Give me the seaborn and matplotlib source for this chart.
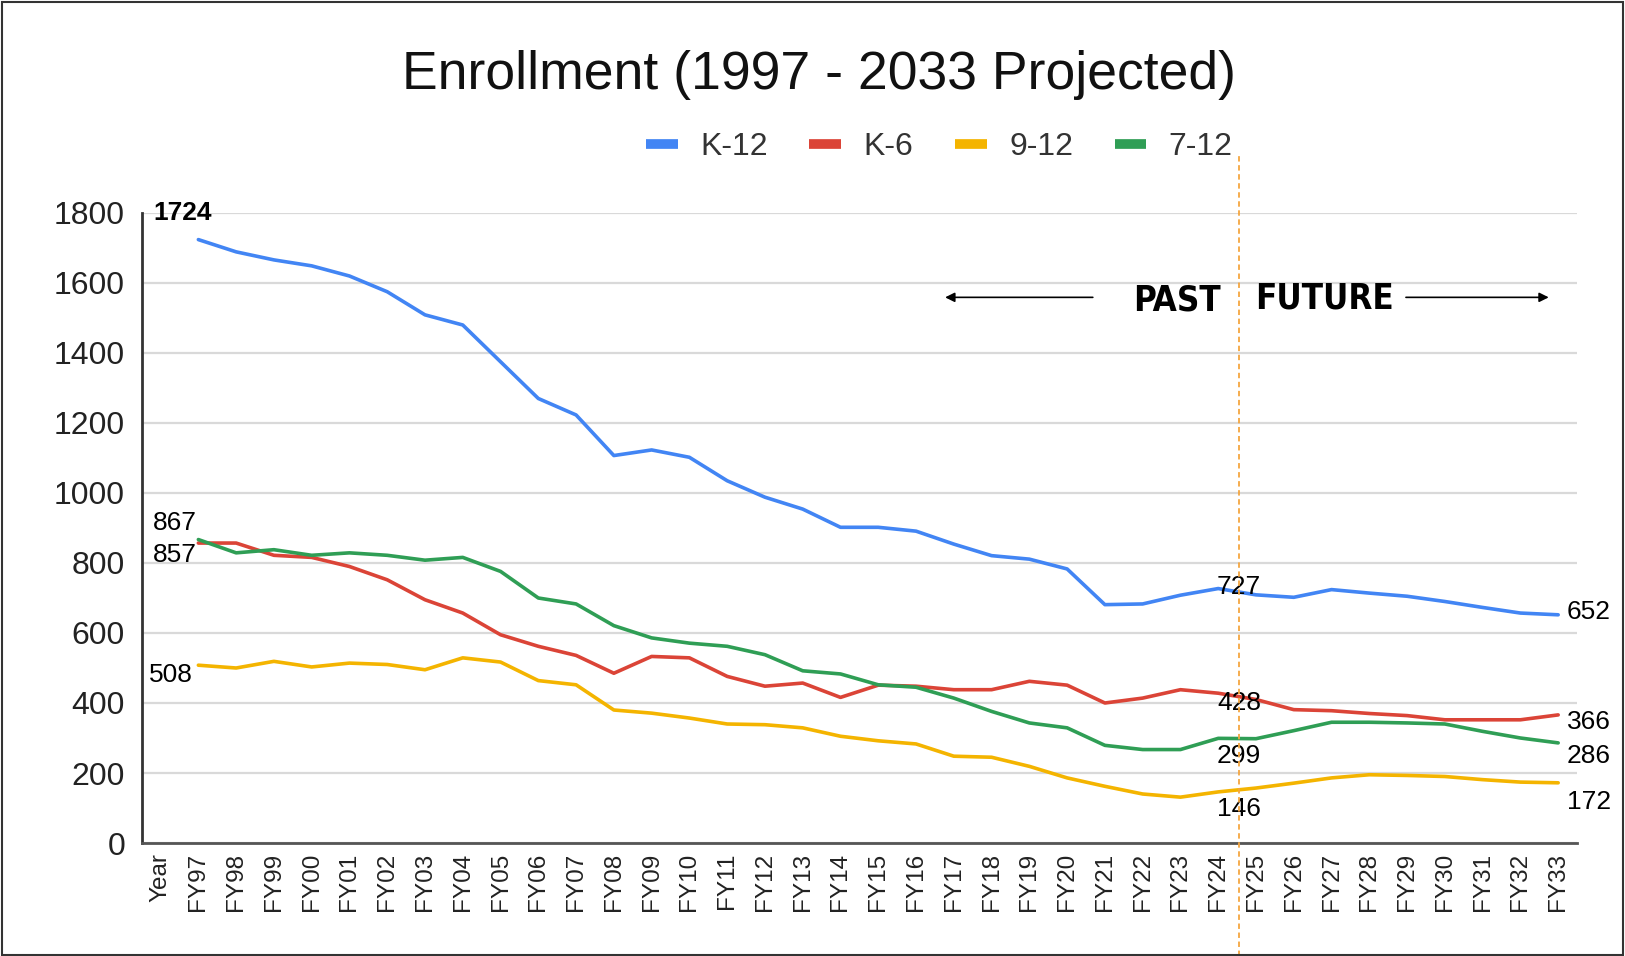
import matplotlib
matplotlib.use("Agg")
import matplotlib.pyplot as plt
from matplotlib.lines import Line2D
from matplotlib.patches import Rectangle
import pandas as pd
import seaborn as sns


# categories on the x axis ("Year" is a header column with no data)
years = ["FY97", "FY98", "FY99", "FY00", "FY01", "FY02", "FY03", "FY04", "FY05",
         "FY06", "FY07", "FY08", "FY09", "FY10", "FY11", "FY12", "FY13", "FY14",
         "FY15", "FY16", "FY17", "FY18", "FY19", "FY20", "FY21", "FY22", "FY23",
         "FY24", "FY25", "FY26", "FY27", "FY28", "FY29", "FY30", "FY31", "FY32",
         "FY33"]
x_labels = ["Year"] + years

k12 = [1724, 1689, 1666, 1649, 1620, 1575, 1509, 1480, 1375, 1270, 1223, 1107,
       1123, 1102, 1035, 988, 954, 902, 902, 891, 854, 821, 811, 783,
       681, 683, 708, 727, 709, 702, 724, 714, 705, 690, 673, 657, 652]
k6 = [857, 857, 822, 816, 790, 752, 695, 657, 595, 562, 536, 485,
      533, 529, 476, 448, 457, 416, 451, 448, 438, 438, 462, 451,
      400, 414, 438, 428, 410, 381, 378, 370, 364, 352, 352, 352, 366]
g9_12 = [508, 500, 519, 503, 514, 510, 495, 529, 517, 464, 452, 380,
         371, 357, 340, 338, 329, 305, 292, 283, 248, 245, 219, 186,
         162, 140, 131, 146, 157, 171, 186, 195, 193, 190, 181, 174, 172]
g7_12 = [867, 829, 838, 822, 829, 822, 808, 816, 776, 700, 683, 621,
         586, 571, 562, 538, 492, 483, 452, 445, 414, 376, 343, 329,
         279, 267, 267, 299, 298, 321, 345, 345, 343, 340, 319, 300, 286]

series_names = ["K-12", "K-6", "9-12", "7-12"]
colors = ["#4285F4", "#DB4437", "#F4B400", "#2F9E55"]
y_ticks = [0, 200, 400, 600, 800, 1000, 1200, 1400, 1600, 1800]


def build_frame():
    rows = []
    for name, vals in zip(series_names, [k12, k6, g9_12, g7_12]):
        for yr, v in zip(years, vals):
            rows.append({"pos": x_labels.index(yr), "value": v, "series": name})
    return pd.DataFrame(rows)


def main():
    sns.set_style("white")
    plt.rcParams["font.family"] = ["Liberation Sans", "DejaVu Sans"]

    df = build_frame()
    fig = plt.figure(figsize=(16.25, 9.56), dpi=100)
    ax = fig.add_axes([0.0872, 0.1182, 0.9705 - 0.0872, 0.7772 - 0.1182])

    sns.lineplot(data=df, x="pos", y="value", hue="series", hue_order=series_names,
                 palette=colors, linewidth=2.6, legend=False, ax=ax)

    ax.set_xlim(-0.5, len(x_labels) - 0.5)
    ax.set_ylim(0, 1800)
    ax.set_xticks(range(len(x_labels)))
    ax.set_xticklabels(x_labels, rotation=90, fontsize=17.5, color="#222222")
    ax.set_yticks(y_ticks)
    ax.set_yticklabels([str(t) for t in y_ticks], fontsize=23, color="#222222")
    ax.tick_params(axis="x", length=0, pad=7)
    ax.tick_params(axis="y", length=0, pad=12)
    ax.set_xlabel("")
    ax.set_ylabel("")
    ax.grid(axis="y", color="#d9d9d9", linewidth=1.6)
    ax.set_axisbelow(True)
    for s in ["top", "right"]:
        ax.spines[s].set_visible(False)
    ax.spines["left"].set_color("#333333")
    ax.spines["left"].set_linewidth(2)
    ax.spines["bottom"].set_color("#555555")
    ax.spines["bottom"].set_linewidth(2)

    # past / future divider
    ax.axvline(28.55, ymin=-0.18, ymax=1.09, color="#F4A640", linewidth=1.3,
               linestyle=(0, (3, 2)), clip_on=False, zorder=5)

    # value labels
    lab = dict(fontsize=19, color="black", va="center")
    ax.text(-0.2, 1800, str(k12[0]), ha="left", fontweight="bold", **lab)
    ax.text(-0.2, 914, str(g7_12[0]), ha="left", **lab)
    ax.text(-0.2, 823, str(k6[0]), ha="left", **lab)
    ax.text(-0.3, 480, str(g9_12[0]), ha="left", **lab)
    i24 = years.index("FY24")
    ax.text(28.55, 730, str(k12[i24]), ha="center", **lab)
    ax.text(28.55, 401, str(k6[i24]), ha="center", **lab)
    ax.text(28.55, 250, str(g7_12[i24]), ha="center", **lab)
    ax.text(28.55, 96, str(g9_12[i24]), ha="center", **lab)
    ax.text(37.23, 661, str(k12[-1]), ha="left", **lab)
    ax.text(37.23, 347, str(k6[-1]), ha="left", **lab)
    ax.text(37.23, 250, str(g7_12[-1]), ha="left", **lab)
    ax.text(37.23, 117, str(g9_12[-1]), ha="left", **lab)

    ax.text(28.06, 1550, "PAST", ha="right", va="center", fontsize=25, color="black",
            fontweight="bold", family="DejaVu Sans", fontstretch="condensed")
    ax.text(28.97, 1557, "FUTURE", ha="left", va="center", fontsize=25, color="black",
            fontweight="bold", family="DejaVu Sans", fontstretch="condensed")
    arrow = dict(arrowstyle="-|>", color="black", lw=1.2, mutation_scale=14,
                 shrinkA=0, shrinkB=0)
    ax.annotate("", xy=(20.77, 1559), xytext=(24.68, 1559), arrowprops=arrow)
    ax.annotate("", xy=(36.75, 1559), xytext=(32.97, 1559), arrowprops=arrow)

    fig.text(0.504, 0.922, "Enrollment (1997 - 2033 Projected)", ha="center",
             va="center", fontsize=38.5, color="#111111")

    handles = [Line2D([0], [0], color=c, linewidth=7, solid_capstyle="butt")
               for c in colors]
    fig.legend(handles, series_names, loc="center", bbox_to_anchor=(0.578, 0.846),
               ncol=4, frameon=False, fontsize=23, handlelength=1.0,
               handletextpad=0.7, columnspacing=1.3, labelcolor="#333333")

    fig.patches.append(Rectangle((0.001, 0.001), 0.998, 0.997, transform=fig.transFigure,
                                 fill=False, edgecolor="#333333", linewidth=1.5))

    fig.savefig("out.png", dpi=100)
    plt.close(fig)


if __name__ == "__main__":
    main()
